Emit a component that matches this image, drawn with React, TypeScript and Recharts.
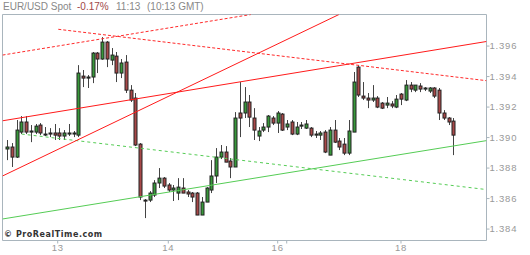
import { ComposedChart, Bar, XAxis, YAxis, ReferenceLine, ReferenceArea } from "recharts";

// hourly-ish candles
const open = [
  1.38925, 1.38938, 1.38872, 1.39036, 1.39102, 1.39036, 1.39036, 1.39082, 1.39023, 1.3903,
  1.3903, 1.3903, 1.3901, 1.39023, 1.39023, 1.39016, 1.39403, 1.3939, 1.39397, 1.39554,
  1.39515, 1.39626, 1.39508, 1.39534, 1.39423, 1.39495, 1.39311, 1.39259, 1.38957, 1.3859,
  1.3859, 1.38623, 1.38702, 1.38734, 1.38689, 1.38656, 1.38636, 1.38669, 1.38643, 1.38636,
  1.38636, 1.38492, 1.38577, 1.38656, 1.38748, 1.38872, 1.38905, 1.38846, 1.38807, 1.39161,
  1.39161, 1.39233, 1.39128, 1.3901, 1.39049, 1.39069, 1.39128, 1.39095, 1.39154, 1.39069,
  1.39102, 1.39023, 1.39075, 1.39062, 1.39062, 1.39016, 1.39016, 1.39036, 1.38885, 1.39049,
  1.38977, 1.38957, 1.38898, 1.39036, 1.39462, 1.39272, 1.39259, 1.39246, 1.39259, 1.39226,
  1.39213, 1.3922, 1.392, 1.39285, 1.39246, 1.39344, 1.39311, 1.39338, 1.39318, 1.39305,
  1.39325, 1.39311, 1.39161, 1.39128, 1.39108,
];
const high = [
  1.38984, 1.38964, 1.39115, 1.39141, 1.39141, 1.39082, 1.39089, 1.39095, 1.39069, 1.39062,
  1.39089, 1.39062, 1.39049, 1.39089, 1.39043, 1.39475, 1.39443, 1.3941, 1.39561, 1.39561,
  1.39659, 1.39633, 1.39587, 1.39561, 1.39515, 1.39541, 1.39344, 1.39292, 1.38964, 1.38597,
  1.38649, 1.38721, 1.388, 1.38741, 1.38702, 1.38689, 1.38734, 1.38734, 1.38656, 1.38643,
  1.38643, 1.3861, 1.38675, 1.38852, 1.38931, 1.38951, 1.38944, 1.38866, 1.39167, 1.39364,
  1.39331, 1.39279, 1.39193, 1.39069, 1.39095, 1.39148, 1.39141, 1.39174, 1.39161, 1.39115,
  1.39115, 1.39102, 1.39102, 1.39115, 1.39069, 1.39043, 1.39043, 1.39049, 1.39069, 1.39115,
  1.38997, 1.38997, 1.39115, 1.3943, 1.39475, 1.39364, 1.39292, 1.39344, 1.39272, 1.39233,
  1.39266, 1.39239, 1.39279, 1.39292, 1.39377, 1.39364, 1.39344, 1.39357, 1.39331, 1.39331,
  1.39331, 1.39325, 1.3918, 1.39134, 1.39128,
];
const low = [
  1.38852, 1.38807, 1.38866, 1.39023, 1.39023, 1.3897, 1.39023, 1.39016, 1.3901, 1.39003,
  1.38984, 1.38984, 1.38984, 1.3901, 1.39003, 1.39003, 1.39331, 1.39325, 1.39357, 1.39423,
  1.3951, 1.39462, 1.39475, 1.39364, 1.3939, 1.39292, 1.39233, 1.38944, 1.3859, 1.38472,
  1.38577, 1.3861, 1.38669, 1.38669, 1.38643, 1.38584, 1.3859, 1.38636, 1.3861, 1.38577,
  1.38492, 1.38492, 1.38577, 1.38636, 1.38702, 1.38859, 1.38839, 1.38734, 1.38807, 1.39003,
  1.39128, 1.39069, 1.38984, 1.38977, 1.39036, 1.39036, 1.39082, 1.3903, 1.39043, 1.39049,
  1.39016, 1.39016, 1.39056, 1.39056, 1.39003, 1.38997, 1.38984, 1.38898, 1.38885, 1.38964,
  1.38918, 1.38885, 1.38885, 1.39036, 1.39266, 1.39246, 1.39193, 1.39233, 1.39193, 1.39187,
  1.39193, 1.39193, 1.39193, 1.39213, 1.39239, 1.39298, 1.39298, 1.39298, 1.39305, 1.39292,
  1.39259, 1.39115, 1.39115, 1.39082, 1.38885,
];
const close = [
  1.38938, 1.38872, 1.39049, 1.39102, 1.39036, 1.39043, 1.39075, 1.3903, 1.3902, 1.39023,
  1.39016, 1.3901, 1.3903, 1.3903, 1.3903, 1.39423, 1.3939, 1.39397, 1.39554, 1.39515,
  1.39626, 1.39515, 1.39541, 1.39423, 1.39489, 1.39311, 1.39246, 1.38951, 1.3861, 1.38584,
  1.38636, 1.38702, 1.38734, 1.38682, 1.38656, 1.38669, 1.38675, 1.38636, 1.3863, 1.3861,
  1.38492, 1.38577, 1.38669, 1.38748, 1.38872, 1.38905, 1.38839, 1.38807, 1.39128, 1.39128,
  1.39233, 1.39134, 1.39049, 1.39043, 1.39069, 1.39141, 1.39095, 1.39161, 1.39049, 1.39089,
  1.39023, 1.39069, 1.39082, 1.39089, 1.39016, 1.39023, 1.3903, 1.38905, 1.39049, 1.3897,
  1.38938, 1.38898, 1.39043, 1.39364, 1.39279, 1.39259, 1.39246, 1.39259, 1.392, 1.39193,
  1.39226, 1.39207, 1.39252, 1.39252, 1.39344, 1.39318, 1.39344, 1.39318, 1.39325, 1.39325,
  1.39272, 1.39161, 1.39128, 1.39102, 1.39016,
];

const X_MIN = -0.95;
const X_MAX = 100.99;
const Y_MIN = 1.38325;
const Y_MAX = 1.39807;

const yTicks = [1.384, 1.386, 1.388, 1.39, 1.392, 1.394, 1.396];
const xTicks = [10.68, 33.97, 57.01, 58.91, 82.98];
const xTickLabels = ["13", "14", "16", "", "18"];

// trend lines: [x1, y1, x2, y2] in candle index / price
const redSolid = [
  [X_MIN, 1.3911, X_MAX, 1.3963],
  [X_MIN, 1.38748, 69.92, Y_MAX],
];
const redDashed = [
  [X_MIN, 1.39541, 51.39, Y_MAX],
  [10.8, 1.3971, X_MAX, 1.39373],
];
const greenSolid = [[X_MIN, 1.38466, X_MAX, 1.3898]];
const greenDashed = [[3.1, 1.39023, X_MAX, 1.38659]];

const candles = open.map((o, i) => ({
  i,
  open: o,
  high: high[i],
  low: low[i],
  close: close[i],
}));

const axisColor = "#a9b5bd";
const labelStyle = { fill: "#999", fontSize: 9.5, fontFamily: "Liberation Sans, Arial", letterSpacing: 0.8 };

const Candle = (props: any) => {
  const { x, y, width, height, payload } = props;
  if (!payload) return null;
  const { open: o, close: c, high: h, low: l } = payload;
  const cx = Math.round(x + width / 2) + 0.5;
  const top = Math.min(y, y + height);
  const span = Math.abs(height);
  const range = h - l || 1e-9;
  const yOf = (v: number) => top + ((h - v) / range) * span;
  const bTop = yOf(Math.max(o, c));
  const bBot = yOf(Math.min(o, c));
  const flat = Math.abs(c - o) < 0.00004;
  const fill = flat ? "#333" : c > o ? "#38983a" : "#a84848";
  return (
    <g>
      <line x1={cx} x2={cx} y1={top} y2={top + span} stroke="#444" />
      <rect
        x={cx - 1.5}
        y={bTop}
        width={3}
        height={Math.max(bBot - bTop, 1)}
        fill={fill}
        stroke="#222"
      />
    </g>
  );
};

const seg = (s: number[]) => [
  { x: s[0], y: s[1] },
  { x: s[2], y: s[3] },
];

export default function App() {
  return (
    <div style={{ position: "absolute", left: 0, top: 0, width: 530, height: 255, background: "#fff" }}>
      <ComposedChart
        width={530}
        height={255}
        data={candles}
        margin={{ top: 14.5, left: 2.5, right: 0, bottom: 0 }}
      >
        <XAxis
          dataKey="i"
          type="number"
          domain={[X_MIN, X_MAX]}
          allowDataOverflow
          ticks={xTicks}
          interval={0}
          tickFormatter={(v: number) => xTickLabels[xTicks.indexOf(v)] ?? ""}
          height={14.5}
          axisLine={false}
          tickLine={{ stroke: axisColor }}
          tickSize={3}
          tickMargin={1}
          tick={labelStyle}
        />
        <YAxis
          orientation="right"
          type="number"
          domain={[Y_MIN, Y_MAX]}
          allowDataOverflow
          ticks={yTicks}
          interval={0}
          tickFormatter={(v: number) => v.toFixed(3)}
          width={43.5}
          axisLine={false}
          tickLine={{ stroke: axisColor }}
          tickSize={3}
          tickMargin={0}
          tick={labelStyle}
        />
        <ReferenceArea
          x1={X_MIN}
          x2={X_MAX}
          y1={Y_MIN}
          y2={Y_MAX}
          fill="none"
          fillOpacity={0}
          stroke={axisColor}
          ifOverflow="visible"
        />
        {greenSolid.map((s, k) => (
          <ReferenceLine key={"gs" + k} segment={seg(s)} stroke="#55cc55" ifOverflow="hidden" />
        ))}
        {greenDashed.map((s, k) => (
          <ReferenceLine key={"gd" + k} segment={seg(s)} stroke="#55cc55" strokeDasharray="3 3" ifOverflow="hidden" />
        ))}
        {redDashed.map((s, k) => (
          <ReferenceLine key={"rd" + k} segment={seg(s)} stroke="#ff2a2a" strokeDasharray="3 2" ifOverflow="hidden" />
        ))}
        {redSolid.map((s, k) => (
          <ReferenceLine key={"rs" + k} segment={seg(s)} stroke="#ff1a1a" ifOverflow="hidden" />
        ))}
        <Bar
          dataKey={(d: any) => [d.low, d.high]}
          isAnimationActive={false}
          shape={(p: any) => <Candle {...p} />}
        />
      </ComposedChart>
      <div
        style={{
          position: "absolute",
          left: 3,
          top: 1,
          fontFamily: "Liberation Sans, Arial",
          fontSize: 10,
          lineHeight: "11px",
          color: "#888",
          whiteSpace: "nowrap",
        }}
      >
        <span style={{ position: "absolute", left: 0 }}>EUR/USD Spot</span>
        <span style={{ position: "absolute", left: 74, color: "#a04848" }}>-0.17%</span>
        <span style={{ position: "absolute", left: 113 }}>11:13</span>
        <span style={{ position: "absolute", left: 144 }}>(10:13 GMT)</span>
      </div>
      <div
        style={{
          position: "absolute",
          left: 4,
          top: 230,
          fontFamily: "DejaVu Sans",
          fontWeight: "bold",
          fontSize: 8,
          lineHeight: "10px",
          letterSpacing: 0.55,
          color: "#333",
          whiteSpace: "nowrap",
        }}
      >
        © ProRealTime.com
      </div>
    </div>
  );
}
